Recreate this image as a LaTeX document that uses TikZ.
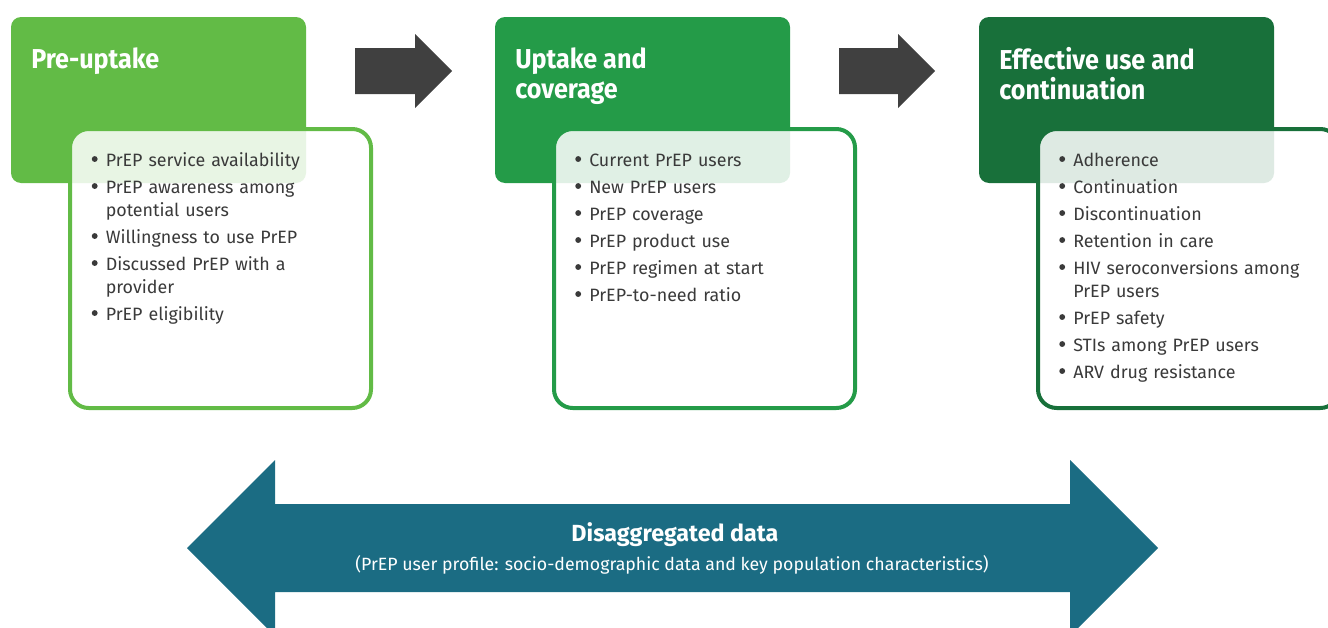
\documentclass[tikz,border=0pt]{standalone}
\usepackage{fontspec}
\setmainfont{Fira Sans}
\newfontfamily\ttlfont[FakeStretch=0.92]{Fira Sans}
\usetikzlibrary{calc}
\definecolor{gA}{HTML}{62BB46}
\definecolor{gB}{HTML}{249B48}
\definecolor{gC}{HTML}{18703A}
\definecolor{arw}{HTML}{404040}
\definecolor{tealc}{HTML}{1B6C83}
\definecolor{txt}{HTML}{3A3A3A}
\newcommand{\nohyph}{\hyphenpenalty=10000\relax\exhyphenpenalty=10000\relax}
\newcommand{\bulletdot}{\tikz[baseline=0pt]\fill[txt] (2.8pt,5.8pt) circle (2.2pt);}
\newcommand{\itm}[1]{\par\noindent\hangindent=10.5pt\hangafter=1\makebox[10.5pt][l]{\smash{\bulletdot}}#1\par\vspace{3pt}}
\tikzset{
  hdr/.style={rounded corners=7.5pt, draw=none, anchor=north west, minimum width=221.25pt, minimum height=124.5pt, inner sep=0pt, outer sep=0pt},
  lst/.style={rounded corners=14pt, line width=3pt, fill=white, fill opacity=0.86, text opacity=1, anchor=north west, minimum width=225.75pt, minimum height=209.25pt, inner sep=0pt},
  ttl/.style={text=white, font=\ttlfont\fontsize{20.5}{22.5}\selectfont\bfseries, align=left, anchor=north west, inner sep=0pt},
  items/.style={text=txt, font=\fontsize{13.4}{17.25}\selectfont, text width=192pt, align=left, anchor=north west, inner sep=0pt},
  blk/.style={fill=arw, draw=none}
}
\begin{document}
\begin{tikzpicture}[x=0.75pt,y=-0.75pt]
\useasboundingbox (0,0) rectangle (1328,628);
% headers
\node[hdr, fill=gA] (h1) at (11,17) {};
\node[hdr, fill=gB] (h2) at (495,17) {};
\node[hdr, fill=gC] (h3) at (979,17) {};
\node[ttl] (t1) at (31,47.5) {Pre-uptake};
\node[ttl] (t2) at (515,47.5) {Uptake and\\coverage};
\node[ttl] (t3) at (999,47.5) {Effective use and\\continuation};
% list boxes
\node[lst, draw=gA] (l1) at (68,127) {};
\node[lst, draw=gB] (l2) at (552,127) {};
\node[lst, draw=gC] (l3) at (1036,127) {};
\node[items] (i1) at (91.5,143.5) {\nohyph
\itm{PrEP service availability}
\itm{PrEP awareness among potential users}
\itm{Willingness to use PrEP}
\itm{Discussed PrEP with a provider}
\itm{PrEP eligibility}};
\node[items] (i2) at (575,143.5) {\nohyph
\itm{Current PrEP users}
\itm{New PrEP users}
\itm{PrEP coverage}
\itm{PrEP product use}
\itm{PrEP regimen at start}
\itm{PrEP-to-need ratio}};
\node[items] (i3) at (1059,143.5) {\nohyph
\itm{Adherence}
\itm{Continuation}
\itm{Discontinuation}
\itm{Retention in care}
\itm{HIV seroconversions among PrEP users}
\itm{PrEP safety}
\itm{STIs among PrEP users}
\itm{ARV drug resistance}};
% block arrows
\fill[blk] (355,48) -- (415,48) -- (415,34) -- (452,71) -- (415,108) -- (415,94) -- (355,94) -- cycle;
\fill[blk] (839,48) -- (898,48) -- (898,34) -- (935,71) -- (898,108) -- (898,94) -- (839,94) -- cycle;
% double arrow
\fill[tealc] (187,548) -- (275,460) -- (275,504) -- (1070,504) -- (1070,460) -- (1158,548) -- (1070,636) -- (1070,592) -- (275,592) -- (275,636) -- cycle;
\node[text=white, font=\fontsize{17.5}{20}\selectfont\bfseries, anchor=base] (d1) at (675,541) {Disaggregated data};
\node[text=white, font=\fontsize{13.3}{15}\selectfont, anchor=base] (d2) at (672,570) {(PrEP user profile: socio-demographic data and key population characteristics)};
\end{tikzpicture}
\end{document}
